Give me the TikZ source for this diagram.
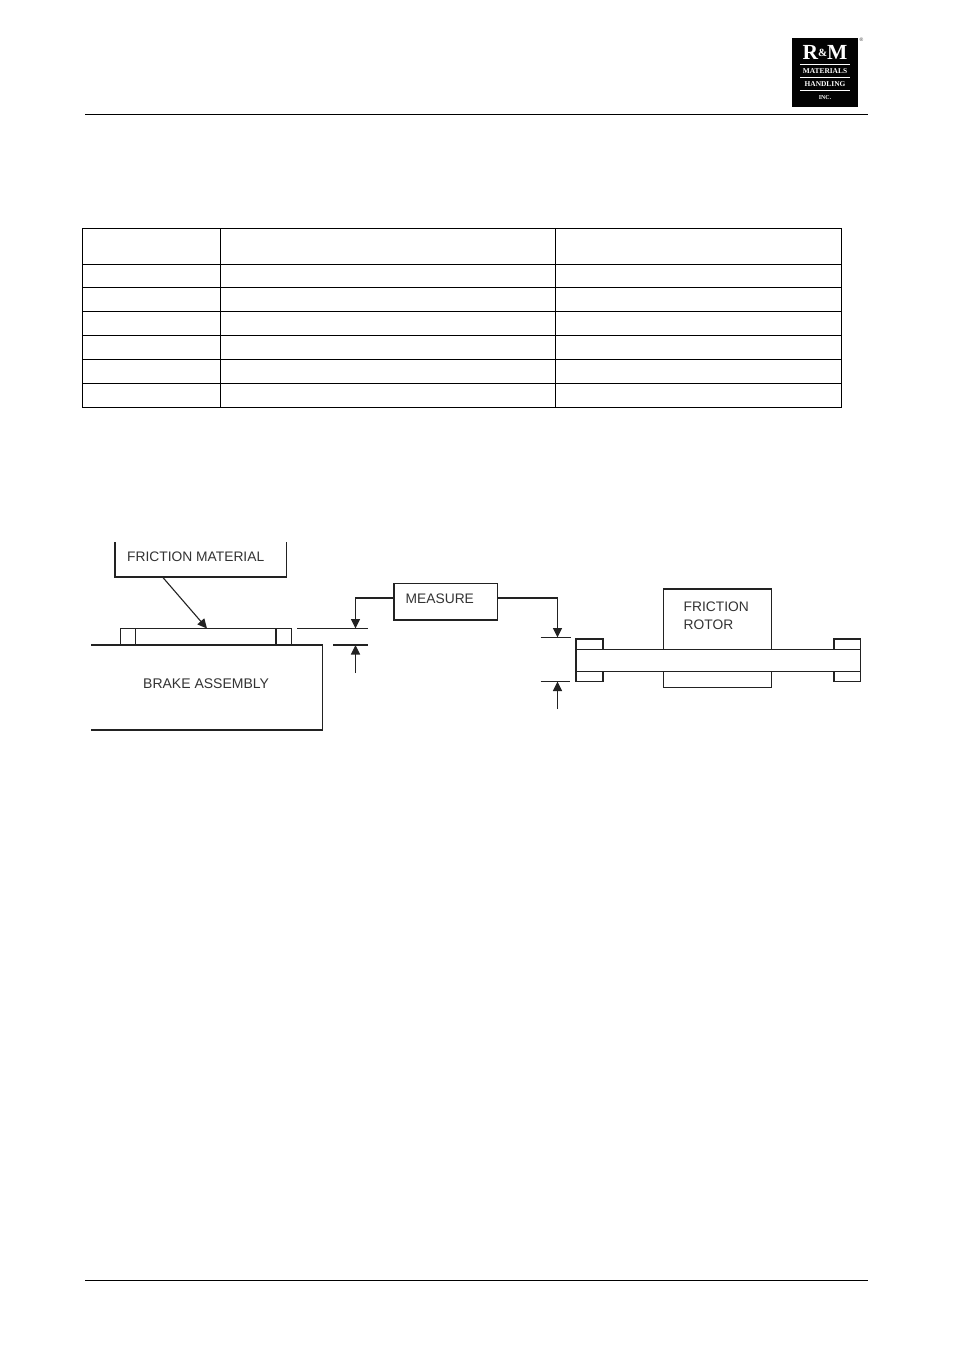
\documentclass[tikz,border=0pt]{standalone}
\usepackage{fontspec}
\setmainfont{Liberation Sans}
\newfontfamily\logofont{Liberation Serif}
\usetikzlibrary{arrows.meta}
\definecolor{ink}{HTML}{222222}
\definecolor{txt}{HTML}{333333}
\tikzset{
  part/.style={draw=ink,line width=1.1pt,fill=white},
  edge/.style={draw=ink,line width=1.1pt},
  rulelight/.style={draw=black,line width=1pt},
  grid/.style={draw=black,line width=1pt},
  dimarrow/.style={draw=ink,line width=1.1pt,-{Triangle[length=9.5pt,width=9pt]}},
  label/.style={inner sep=0pt,anchor=base west,text=txt,font=\fontsize{13.8}{16}\selectfont},
  logotxt/.style={inner sep=0pt,anchor=center,text=white,font=\logofont\bfseries\fontsize{7.4}{8}\selectfont},
  logoline/.style={draw=white,line width=0.9pt},
}
\begin{document}
\begin{tikzpicture}[x=1pt,y=-1pt]
\useasboundingbox (0,0) rectangle (954,1350);
\fill[white] (0,0) rectangle (954,1350);
% header and footer rules
\coordinate (hl) at (85,114); \coordinate (hr) at (868,114);
\coordinate (fl) at (85,1280.5); \coordinate (fr) at (868,1280.5);
\draw[rulelight] (hl) -- (hr);
\draw[rulelight] (fl) -- (fr);
% logo
\fill[black!90!ink] (792,37.5) rectangle (858,106.5);
\node[logotxt,font=\logofont\bfseries\fontsize{21.5}{22}\selectfont] (rm) at (825,52) {R\raisebox{2.5pt}{\fontsize{11}{11}\selectfont\&}M};
\draw[logoline] (800,64.5) -- (850,64.5);
\node[logotxt] (lm) at (825,71) {MATERIALS};
\draw[logoline] (800,77.5) -- (850,77.5);
\node[logotxt] (lh) at (825,84.5) {HANDLING};
\draw[logoline] (800,90.5) -- (850,90.5);
\node[logotxt,font=\logofont\bfseries\fontsize{6}{7}\selectfont] (li) at (825,98) {INC.};
\node[inner sep=0pt,text=txt,font=\fontsize{5}{5}\selectfont] (reg) at (861.5,40) {®};
% table
\draw[grid] (82.5,228.5) rectangle (841.5,407.5);
\foreach \yy in {264,287.5,311.5,335.5,359.5,383.5} \draw[grid] (82.5,\yy) -- (841.5,\yy);
\foreach \xx in {220.5,555.5} \draw[grid] (\xx,228.5) -- (\xx,407.5);
% friction material callout (open top)
\draw[edge] (115,542) -- (115,577) -- (286.5,577) -- (286.5,542);
\node[label] (fm) at (127,561) {FRICTION MATERIAL};
\coordinate (fmout) at (162.5,577);
% friction plate
\draw[edge] (120.5,645) -- (120.5,628.5) -- (291.5,628.5) -- (291.5,645);
\draw[edge] (135.5,628.5) -- (135.5,645);
\draw[edge] (276,628.5) -- (276,645);
\coordinate (plate) at (207,628.5);
\draw[dimarrow] (fmout) -- (plate);
% brake assembly (open left)
\draw[edge] (91,645) -- (322.5,645) -- (322.5,730) -- (91,730);
\node[label,font=\fontsize{14}{16}\selectfont] (ba) at (143,688) {BRAKE ASSEMBLY};
% measure
\node[part,minimum width=103.5pt,minimum height=36.5pt,inner sep=0pt] (measure) at (445.75,601.75) {};
\node[label] (mt) at (405.5,603) {MEASURE};
% left dimension
\draw[edge] (297,628.5) -- (368,628.5);
\draw[edge] (333,645) -- (368,645);
\coordinate (ldtop) at (355.5,628.5);
\coordinate (ldbot) at (355.5,645);
\coordinate (ldup) at (355.5,673);
\draw[dimarrow] (measure.west |- 0,598) -- (355.5,598) -- (ldtop);
\draw[dimarrow] (ldup) -- (ldbot);
% right dimension
\draw[edge] (540.5,637.5) -- (571,637.5);
\draw[edge] (540.5,681.5) -- (570,681.5);
\coordinate (rdtop) at (557.5,637.5);
\coordinate (rdbot) at (557.5,681.5);
\coordinate (rdup) at (557.5,709);
\draw[dimarrow] (measure.east |- 0,598) -- (557.5,598) -- (rdtop);
\draw[dimarrow] (rdup) -- (rdbot);
% rotor
\draw[edge] (663.5,649.5) -- (663.5,589) -- (771.5,589) -- (771.5,649.5);
\draw[edge] (663.5,671.5) -- (663.5,687.5) -- (771.5,687.5) -- (771.5,671.5);
\draw[edge] (576,649.5) rectangle (860.5,671.5);
\draw[edge] (576,649.5) -- (576,639) -- (603,639) -- (603,649.5);
\draw[edge] (576,671.5) -- (576,681.5) -- (603,681.5) -- (603,671.5);
\draw[edge] (860.5,649.5) -- (860.5,639) -- (834,639) -- (834,649.5);
\draw[edge] (860.5,671.5) -- (860.5,681.5) -- (834,681.5) -- (834,671.5);
\node[label] (fr1) at (683.5,611) {FRICTION};
\node[label] (fr2) at (683.5,629) {ROTOR};
\end{tikzpicture}
\end{document}
